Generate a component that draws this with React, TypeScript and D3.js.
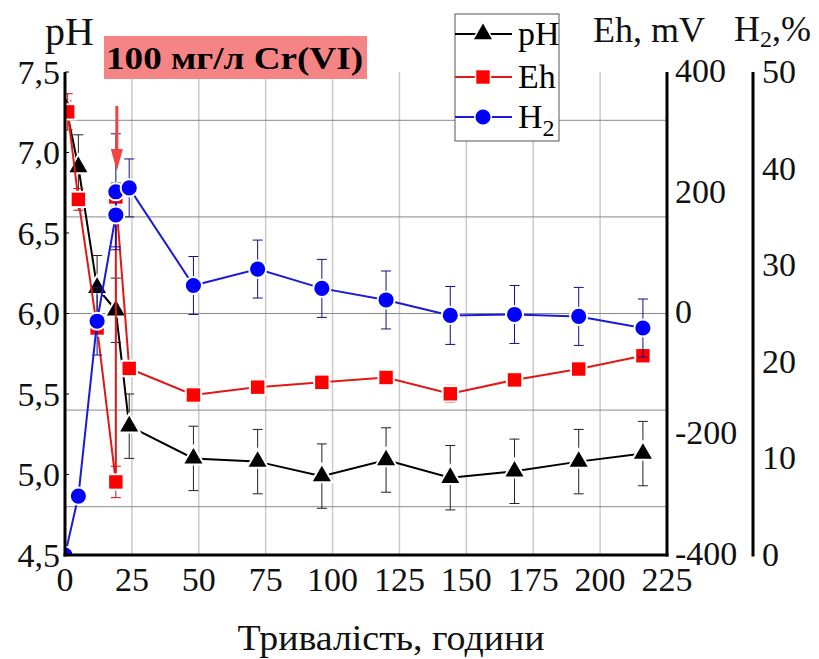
import * as d3 from "d3";
import React from "react";

// час, години
const phHours = [0.5, 5, 12, 19, 24, 48, 72, 96, 120, 144, 168, 192, 216];
const phValues = [7.27, 6.91, 6.16, 6.02, 5.3, 5.1, 5.08, 4.99, 5.09, 4.98, 5.02, 5.08, 5.13];
const phErrors = [0.05, 0.2, 0.2, 0.2, 0.2, 0.2, 0.2, 0.2, 0.2, 0.2, 0.2, 0.2, 0.2];

const ehHours = [1, 5, 12, 19, 19, 24, 48, 72, 96, 120, 144, 168, 192, 216];
const ehValues = [334, 189, -24, -279, 193, -91, -135, -122, -114, -106, -133, -110, -92, -70];
const ehErrors = [30, 18, 10, 26, 15, 6, 13, 6, 5, 5, 14, 5, 5, 5];

const h2Hours = [0, 5, 12, 19, 19, 24, 48, 72, 96, 120, 144, 168, 192, 216];
const h2Values = [0, 6.1, 24.2, 35.2, 37.6, 38.0, 27.9, 29.6, 27.6, 26.4, 24.8, 24.9, 24.7, 23.5];
const h2Errors = [0, 0.5, 3.5, 3.3, 6.0, 3.0, 3.0, 3.0, 3.0, 3.0, 3.0, 3.0, 3.0, 3.0];

const xTicks = [0, 25, 50, 75, 100, 125, 150, 175, 200, 225];
const phTicks = [4.5, 5.0, 5.5, 6.0, 6.5, 7.0, 7.5];
const ehTicks = [-400, -200, 0, 200, 400];
const h2Ticks = [0, 10, 20, 30, 40, 50];
const gridPh = [7.2, 6.6, 6.0, 5.4, 4.8];

const FONT = "'Liberation Serif', 'DejaVu Serif', serif";

const left = 65, right = 667, top = 72, bottom = 555;

const x = d3.scaleLinear().domain([0, 225]).range([left, right]);
const yPh = d3.scaleLinear().domain([4.5, 7.5]).range([bottom, top]);
const yEh = d3.scaleLinear().domain([-400, 400]).range([bottom, top]);
const yH2 = d3.scaleLinear().domain([0, 50]).range([bottom, top]);

const triangle = d3.symbol().type(d3.symbolTriangle).size(140)()!;
const square = d3.symbol().type(d3.symbolSquare).size(180)()!;
const circle = d3.symbol().type(d3.symbolCircle).size(180)()!;

type Series = {
  hours: number[];
  values: number[];
  errors: number[];
  y: d3.ScaleLinear<number, number>;
  line: string;
  fill: string;
  err: string;
  symbol: string;
};

const series: Series[] = [
  { hours: phHours, values: phValues, errors: phErrors, y: yPh, line: "#000", fill: "#000", err: "#222", symbol: triangle },
  { hours: ehHours, values: ehValues, errors: ehErrors, y: yEh, line: "#e01818", fill: "#ff0000", err: "#d01010", symbol: square },
  { hours: h2Hours, values: h2Values, errors: h2Errors, y: yH2, line: "#1a1ad8", fill: "#0000ff", err: "#101090", symbol: circle },
];

function SeriesMarks({ s }: { s: Series }) {
  const pts = s.hours.map((h, i) => [x(h), s.y(s.values[i])] as [number, number]);
  const path = d3.line()(pts)!;
  return (
    <g>
      {s.hours.map((h, i) => {
        const cx = x(h);
        const y1 = s.y(s.values[i] - s.errors[i]);
        const y2 = s.y(s.values[i] + s.errors[i]);
        return (
          <g key={i} stroke={s.err} strokeWidth={1}>
            <line x1={cx} x2={cx} y1={y1} y2={y2} />
            <line x1={cx - 5} x2={cx + 5} y1={y1} y2={y1} />
            <line x1={cx - 5} x2={cx + 5} y1={y2} y2={y2} />
          </g>
        );
      })}
      <path d={path} fill="none" stroke={s.line} strokeWidth={2} />
      {pts.map((p, i) => (
        <path
          key={i}
          d={s.symbol}
          transform={`translate(${p[0]},${p[1]})`}
          fill={s.fill}
          stroke="#fff"
          strokeWidth={4}
          style={{ paintOrder: "stroke" }}
        />
      ))}
    </g>
  );
}

function LegendRow({ s, label, sub, y }: { s: Series; label: string; sub?: string; y: number }) {
  return (
    <g>
      <line x1={455} x2={512} y1={y} y2={y} stroke={s.line} strokeWidth={2} />
      <path d={s.symbol} transform={`translate(483,${y})`} fill={s.fill} stroke="#fff" strokeWidth={3} style={{ paintOrder: "stroke" }} />
      <text x={518} y={y + 11} fontSize={34} fontFamily={FONT}>
        {label}
        {sub && (
          <tspan fontSize={24} dy={8}>
            {sub}
          </tspan>
        )}
      </text>
    </g>
  );
}

export default function App() {
  const arrowX = x(19) + 1;
  const arrowTip = yEh(193) - 26;
  return (
    <svg width={819} height={659} style={{ position: "absolute", left: 0, top: 0, background: "#fff" }}>
      <defs>
        <clipPath id="plot">
          <rect x={left} y={top - 20} width={right - left} height={bottom - top + 20} />
        </clipPath>
      </defs>

      {/* сітка */}
      {xTicks.slice(1, -1).map((t) => (
        <line key={t} x1={x(t)} x2={x(t)} y1={top} y2={bottom} stroke="#cacaca" strokeWidth={1.5} />
      ))}
      {gridPh.map((t) => (
        <line key={t} x1={left} x2={right} y1={yPh(t)} y2={yPh(t)} stroke="#8a8a8a" strokeWidth={1} />
      ))}

      <g clipPath="url(#plot)">
        {series.map((s, i) => (
          <SeriesMarks key={i} s={s} />
        ))}
      </g>

      {/* стрілка */}
      <line x1={arrowX} x2={arrowX} y1={arrowTip - 65} y2={arrowTip - 18} stroke="#f04444" strokeWidth={3} />
      <path d={`M${arrowX - 6},${arrowTip - 22}L${arrowX + 6},${arrowTip - 22}L${arrowX},${arrowTip}Z`} fill="#f04444" />

      {/* осі */}
      <line x1={left} x2={left} y1={top} y2={bottom + 1.5} stroke="#000" strokeWidth={3} />
      <line x1={left - 1.5} x2={right + 1.5} y1={bottom} y2={bottom} stroke="#000" strokeWidth={3} />
      <line x1={right} x2={right} y1={top} y2={bottom + 1.5} stroke="#000" strokeWidth={3} />
      <line x1={753} x2={753} y1={top} y2={bottom + 1.5} stroke="#000" strokeWidth={3} />

      <g fontFamily={FONT} fontSize={34} fill="#111">
        {phTicks.map((t) => (
          <g key={t}>
            <line x1={left} x2={left + 4} y1={yPh(t)} y2={yPh(t)} stroke="#000" strokeWidth={1} />
            <text x={60} y={yPh(t)} dy="0.35em" textAnchor="end">
              {d3.format(".1f")(t).replace(".", ",")}
            </text>
          </g>
        ))}
        {xTicks.map((t) => (
          <text key={t} x={x(t)} y={591} textAnchor="middle">
            {t}
          </text>
        ))}
        {ehTicks.map((t) => (
          <text key={t} x={675} y={yEh(t) - 2} dy="0.35em">
            {t}
          </text>
        ))}
        {h2Ticks.map((t) => (
          <text key={t} x={762} y={yH2(t) - 1} dy="0.35em">
            {t}
          </text>
        ))}
      </g>

      {/* заголовки осей */}
      <text x={45} y={45} fontSize={40} fontFamily={FONT} fill="#111">
        pH
      </text>
      <text x={593} y={42} fontSize={36} fontFamily={FONT} fill="#111">
        Eh, mV
      </text>
      <text x={734} y={41} fontSize={36} fontFamily={FONT} fill="#111">
        H<tspan fontSize={24} dy={6}>2</tspan>
        <tspan dy={-6}>,%</tspan>
      </text>
      <text x={391} y={650} fontSize={36} fontFamily={FONT} textAnchor="middle" fill="#111" textLength={307} lengthAdjust="spacingAndGlyphs">
        Тривалість, години
      </text>

      {/* назва */}
      <rect x={104} y={36} width={263} height={43} fill="#f58585" />
      <text x={106} y={69} fontSize={32} fontWeight="bold" fontFamily={FONT} fill="#000" textLength={257} lengthAdjust="spacingAndGlyphs">
        100 мг/л Cr(VI)
      </text>

      {/* легенда */}
      <rect x={455} y={14} width={104} height={127} fill="#fff" stroke="#555" strokeWidth={1} />
      <LegendRow s={series[0]} label="pH" y={34} />
      <LegendRow s={series[1]} label="Eh" y={77} />
      <LegendRow s={series[2]} label="H" sub="2" y={117} />
    </svg>
  );
}
